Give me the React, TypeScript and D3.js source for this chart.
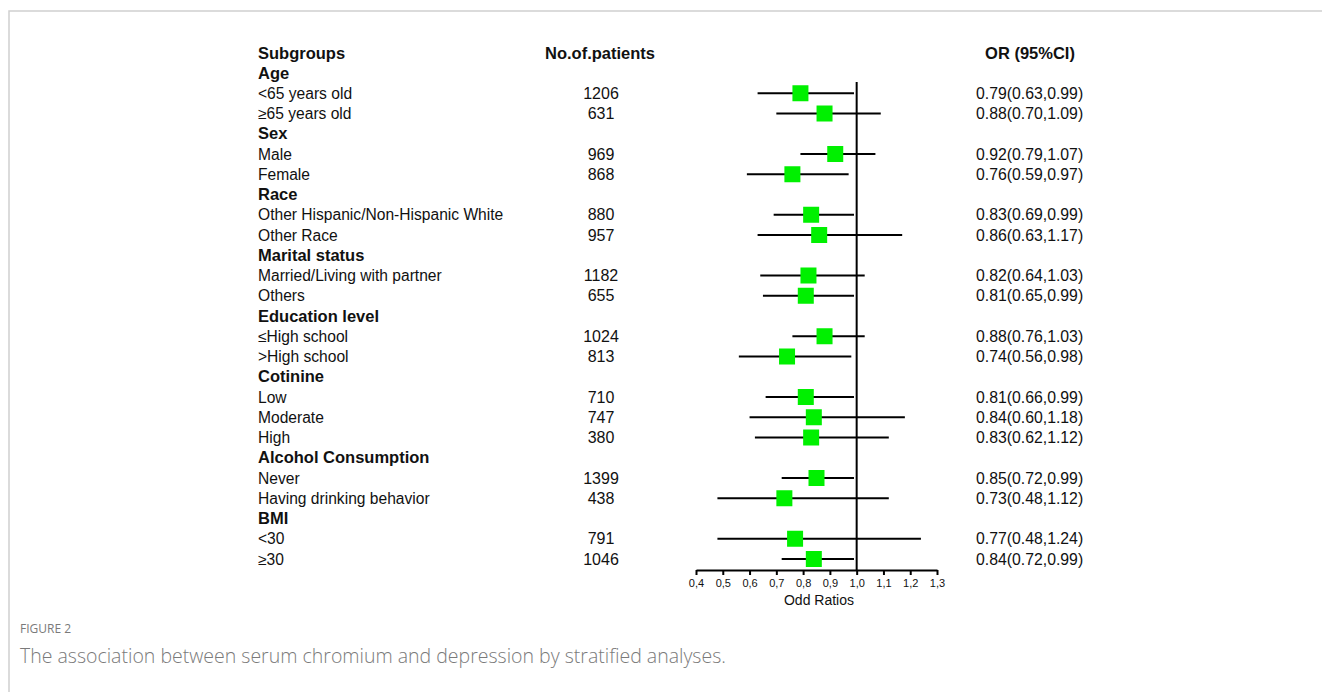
import * as d3 from "d3";
import React, { useEffect, useRef } from "react";

// rows of the table, headers have no numbers
const rowLabels = [
  "Age", "<65 years old", "≥65 years old",
  "Sex", "Male", "Female",
  "Race", "Other Hispanic/Non-Hispanic White", "Other Race",
  "Marital status", "Married/Living with partner", "Others",
  "Education level", "≤High school", ">High school",
  "Cotinine", "Low", "Moderate", "High",
  "Alcohol Consumption", "Never", "Having drinking behavior",
  "BMI", "<30", "≥30",
];
const headerRows = ["Age", "Sex", "Race", "Marital status", "Education level", "Cotinine", "Alcohol Consumption", "BMI"];

const patients = [1206, 631, 969, 868, 880, 957, 1182, 655, 1024, 813, 710, 747, 380, 1399, 438, 791, 1046];
const oddsRatio = [0.79, 0.88, 0.92, 0.76, 0.83, 0.86, 0.82, 0.81, 0.88, 0.74, 0.81, 0.84, 0.83, 0.85, 0.73, 0.77, 0.84];
const ciLower = [0.63, 0.70, 0.79, 0.59, 0.69, 0.63, 0.64, 0.65, 0.76, 0.56, 0.66, 0.60, 0.62, 0.72, 0.48, 0.48, 0.72];
const ciUpper = [0.99, 1.09, 1.07, 0.97, 0.99, 1.17, 1.03, 0.99, 1.03, 0.98, 0.99, 1.18, 1.12, 0.99, 1.12, 1.24, 0.99];

const axisTicks = [0.4, 0.5, 0.6, 0.7, 0.8, 0.9, 1.0, 1.1, 1.2, 1.3];

const W = 1322;
const H = 692;
const font = "'Liberation Sans', Arial, sans-serif";

const App = () => {
  const axisRef = useRef(null);

  const x = d3.scaleLinear().domain([0.4, 1.3]).range([696, 937]);
  const y = d3
    .scalePoint()
    .domain(rowLabels.map((d, i) => String(i)))
    .range([73, 559]);

  // attach numbers to the non-header rows
  let k = 0;
  const rows = rowLabels.map((label, i) => {
    const isHeader = headerRows.includes(label);
    if (isHeader) return { label, i, isHeader };
    const r = { label, i, isHeader, n: patients[k], or: oddsRatio[k], lo: ciLower[k], hi: ciUpper[k] };
    k++;
    return r;
  });

  const axisY = 570;
  const box = 16;

  useEffect(() => {
    const g = d3.select(axisRef.current);
    g.selectAll("*").remove();
    const axis = d3
      .axisBottom(x)
      .tickValues(axisTicks)
      .tickSizeInner(5)
      .tickSizeOuter(0)
      .tickPadding(4)
      .tickFormat((d) => d3.format(".1f")(d).replace(".", ","));
    g.call(axis);
    g.select(".domain").attr("stroke", "#000").attr("stroke-width", 2.2);
    g.selectAll(".tick line").attr("stroke", "#000").attr("stroke-width", 2);
    g.selectAll(".tick text").attr("font-family", font).attr("font-size", 11).attr("fill", "#111");
  }, []);

  const fmt = d3.format(".2f");

  return (
    <svg width={W} height={H} style={{ position: "absolute", left: 0, top: 0, background: "#fff" }}>
      <rect x={9} y={11} width={W} height={H} fill="none" stroke="#cfcfcf" strokeWidth={1.5} />

      <g fontFamily={font} fill="#111">
        <text x={258} y={59} fontSize={16.5} fontWeight="bold">Subgroups</text>
        <text x={600} y={59} fontSize={16.5} fontWeight="bold" textAnchor="middle">No.of.patients</text>
        <text x={1030} y={59} fontSize={16.5} fontWeight="bold" textAnchor="middle">OR (95%CI)</text>

        {rows.map((r) => {
          const cy = y(String(r.i));
          return (
            <g key={r.i}>
              <text x={258} y={cy + 5.5} fontSize={r.isHeader ? 16.5 : 15.6} fontWeight={r.isHeader ? "bold" : "normal"}>
                {r.label}
              </text>
              {!r.isHeader && (
                <>
                  <text x={601} y={cy + 5.5} fontSize={16} textAnchor="middle">{r.n}</text>
                  <text x={976} y={cy + 5.5} fontSize={15.8}>
                    {`${fmt(r.or)}(${fmt(r.lo)},${fmt(r.hi)})`}
                  </text>
                  <line x1={x(r.lo)} x2={x(r.hi)} y1={cy} y2={cy} stroke="#000" strokeWidth={2} />
                  <rect x={x(r.or) - box / 2} y={cy - box / 2} width={box} height={box} fill="#00f000" />
                </>
              )}
            </g>
          );
        })}
      </g>

      <line x1={x(1)} x2={x(1)} y1={82} y2={axisY} stroke="#000" strokeWidth={2} />
      <g ref={axisRef} transform={`translate(0,${axisY})`} />
      <text x={819} y={605} fontFamily={font} fontSize={14} textAnchor="middle" fill="#111">Odd Ratios</text>

      <text x={20} y={633} fontFamily="'Open Sans', sans-serif" fontSize={12} fill="#7a7a7a">FIGURE 2</text>
      <text x={20} y={663} fontFamily="'Open Sans', sans-serif" fontSize={19.5} fontWeight={300} fill="#7a7a7a">
        The association between serum chromium and depression by stratified analyses.
      </text>
    </svg>
  );
};

export default App;
